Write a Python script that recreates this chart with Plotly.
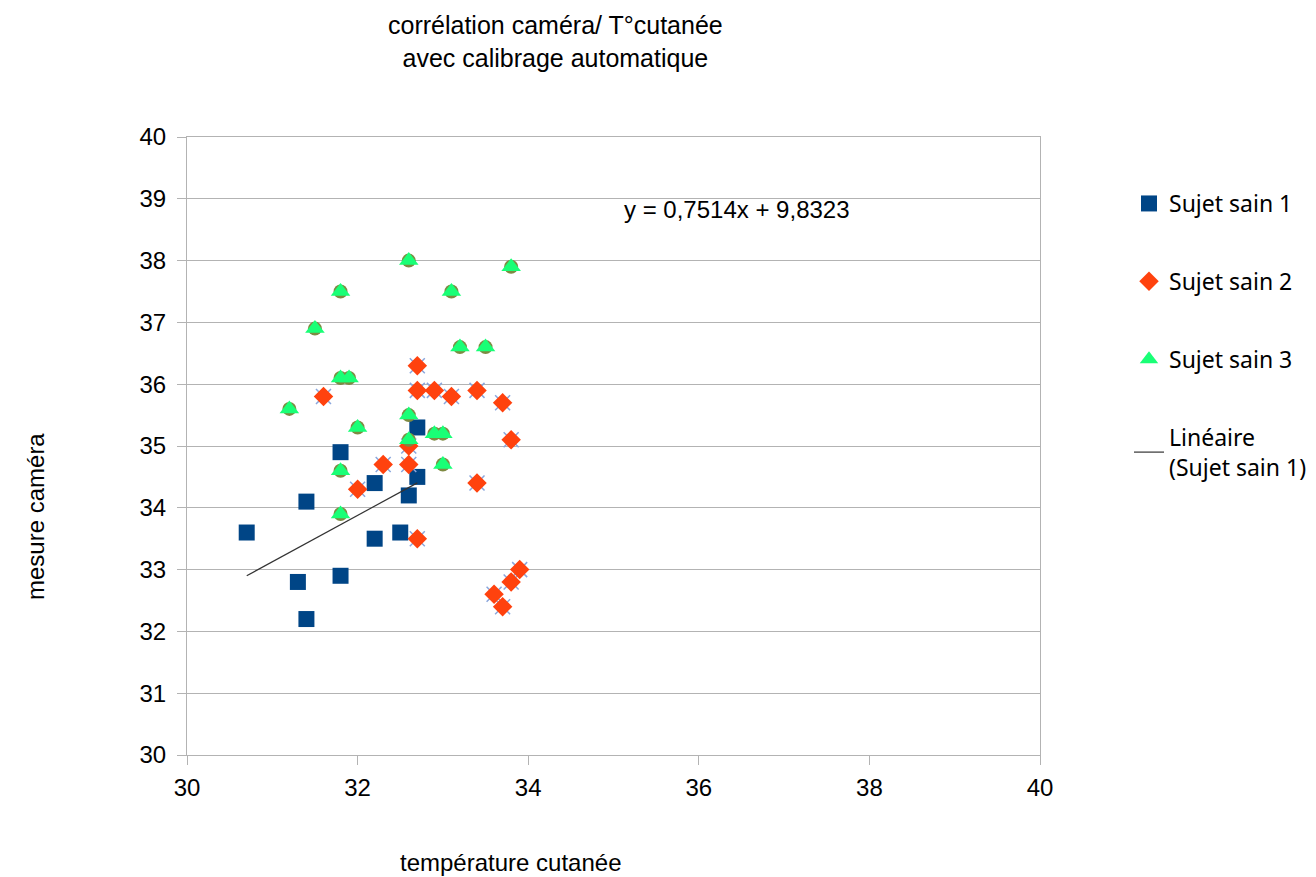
import numpy as np
import plotly.graph_objects as go

# Sujet sain 1
s1_x = [30.7, 31.4, 31.3, 31.4, 31.8, 31.8, 32.2, 32.2, 32.5, 32.6, 32.7, 32.7]
s1_y = [33.6, 34.1, 32.8, 32.2, 34.9, 32.9, 34.4, 33.5, 33.6, 34.2, 35.3, 34.5]

# Sujet sain 2
s2_x = [31.6, 32.7, 32.7, 32.9, 33.1, 33.4, 33.7, 33.8, 32.6, 32.6, 32.3, 32.0,
        33.4, 32.7, 33.9, 33.8, 33.6, 33.7]
s2_y = [35.8, 36.3, 35.9, 35.9, 35.8, 35.9, 35.7, 35.1, 35.0, 34.7, 34.7, 34.3,
        34.4, 33.5, 33.0, 32.8, 32.6, 32.4]

# Sujet sain 3
s3_x = [32.6, 33.8, 31.8, 33.1, 31.5, 33.2, 33.5, 31.8, 31.9, 31.2, 32.0, 32.6,
        32.6, 32.9, 33.0, 33.0, 31.8, 31.8]
s3_y = [38.0, 37.9, 37.5, 37.5, 36.9, 36.6, 36.6, 36.1, 36.1, 35.6, 35.3, 35.5,
        35.1, 35.2, 35.2, 34.7, 34.6, 33.9]

# Trend line (given equation)
slope = 0.7514
intercept = 9.8323
eq_text = "y = 0,7514x + 9,8323"

title_text = "corrélation caméra/ T°cutanée<br>avec calibrage automatique"
x_title = "température cutanée"
y_title = "mesure caméra"

FONT = "Liberation Sans, Arial, sans-serif"

fig = go.Figure()

# Sujet sain 1
fig.add_trace(go.Scatter(
    x=s1_x, y=s1_y, mode="markers", name="Sujet sain 1",
    marker=dict(symbol="square", size=16, color="#004586"),
    legendgroup="g1"))

# Sujet sain 2 (background x marks + diamonds)
fig.add_trace(go.Scatter(
    x=s2_x, y=s2_y, mode="markers", showlegend=False, hoverinfo="skip",
    marker=dict(symbol="x-thin", size=15, line=dict(color="#8aa6dc", width=1.5))))
fig.add_trace(go.Scatter(
    x=s2_x, y=s2_y, mode="markers", name="Sujet sain 2",
    marker=dict(symbol="diamond", size=15, color="#ff420e"),
    legendgroup="g2"))

# Sujet sain 3 (background circle + triangles)
fig.add_trace(go.Scatter(
    x=s3_x, y=s3_y, mode="markers", showlegend=False, hoverinfo="skip",
    marker=dict(symbol="circle", size=14, color="#7e8a42")))
fig.add_trace(go.Scatter(
    x=s3_x, y=s3_y, mode="markers", name="Sujet sain 3",
    marker=dict(symbol="triangle-up", size=17, color="#19ff76"),
    legendgroup="g3"))

# Linear trend line over Sujet sain 1 range
tx = np.array([min(s1_x), max(s1_x)])
ty = slope * tx + intercept
fig.add_trace(go.Scatter(
    x=tx, y=ty, mode="lines", name="Linéaire<br>(Sujet sain 1)",
    line=dict(color="#333333", width=1.2),
    legendgroup="g4"))

fig.add_annotation(
    x=35.1, y=38.82, xref="x", yref="y", text=eq_text, showarrow=False,
    xanchor="left", yanchor="middle",
    font=dict(family=FONT, size=24, color="#000000"))

fig.add_annotation(
    x=(555 - 187) / 853, y=(755 - 41) / 618, xref="paper", yref="paper",
    text=title_text, showarrow=False, xanchor="center", yanchor="middle",
    align="center", font=dict(family=FONT, size=25, color="#000000"))

fig.add_annotation(
    x=(510 - 187) / 853, y=(755 - 862) / 618, xref="paper", yref="paper",
    text=x_title, showarrow=False, xanchor="center", yanchor="middle",
    font=dict(family=FONT, size=24, color="#000000"))

fig.add_annotation(
    x=(35 - 187) / 853, y=(755 - 517) / 618, xref="paper", yref="paper",
    text=y_title, showarrow=False, xanchor="center", yanchor="middle",
    textangle=-90, font=dict(family=FONT, size=24, color="#000000"))

W, H = 1308, 869
fig.update_layout(
    width=W, height=H,
    margin=dict(l=179, r=W - 179 - 853, t=129, b=H - 129 - 618,
                autoexpand=False),
    plot_bgcolor="white", paper_bgcolor="white",
    showlegend=True,
    legend=dict(
        x=(1129 - 187) / 853, y=(755 - 182) / 618, xref="paper", yref="paper",
        xanchor="left", yanchor="top",
        font=dict(family="Noto Sans, Open Sans", size=23, color="#000000"),
        tracegroupgap=45, itemwidth=30, bgcolor="rgba(0,0,0,0)"),
    xaxis=dict(
        range=[30, 40], dtick=2, tick0=30, showgrid=False, zeroline=False,
        showline=True, mirror=True, linecolor="#b3b3b3", linewidth=1,
        ticks="outside", ticklen=9, tickcolor="#b3b3b3",
        ticklabelstandoff=2,
        tickfont=dict(family=FONT, size=24, color="#000000")),
    yaxis=dict(
        range=[30, 40], dtick=1, tick0=30, showgrid=True, gridcolor="#b3b3b3",
        gridwidth=1, zeroline=False,
        showline=True, mirror=True, linecolor="#b3b3b3", linewidth=1,
        ticks="outside", ticklen=9, tickcolor="#b3b3b3",
        ticklabelstandoff=6,
        tickfont=dict(family=FONT, size=24, color="#000000")),
)

fig.write_html("out.html")
